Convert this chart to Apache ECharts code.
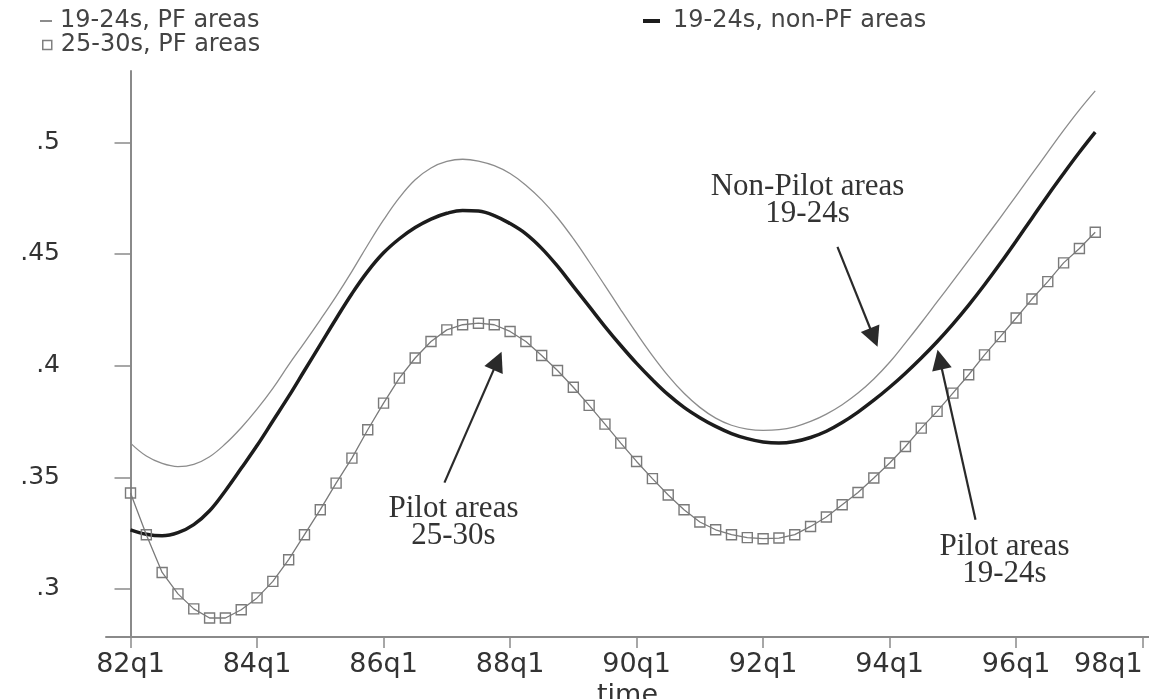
<!DOCTYPE html>
<html lang="en">
<head>
    <meta charset="UTF-8">
    <title>PF areas</title>
    <script src="https://cdn.jsdelivr.net/npm/echarts@6.0.0/dist/echarts.min.js"></script>
    <style>
        html, body {margin: 0; padding: 0; background: #fff;}
        #chart {width: 1149px; height: 699px;}
    </style>
</head>
<body>
<div id="chart"></div>
<script>
    // x is quarters counted from 82q1 (0 = 82q1, 61 = 97q2)
    let tickPos = [0, 8, 16, 24, 32, 40, 48, 56, 64];
    let tickLabels = ['82q1', '84q1', '86q1', '88q1', '90q1', '92q1', '94q1', '96q1', '98q1'];
    let yTicks = [0.3, 0.35, 0.4, 0.45, 0.5];

    let pf1924 = [
        .3653, .3595, .3562, .3548, .3558, .3592, .3650, .3722, .3805, .3898,
        .4003, .4103, .4205, .4310, .4422, .4540, .4652, .4752, .4832, .4885,
        .4914, .4924, .4916, .4895, .4860, .4808, .4742, .4662, .4568, .4465,
        .4358, .4250, .4145, .4045, .3954, .3876, .3813, .3765, .3733, .3716,
        .3710, .3713, .3726, .3750, .3783, .3825, .3877, .3940, .4015, .4102,
        .4192, .4285, .4378, .4472, .4567, .4663, .4760, .4858, .4956, .5053,
        .5145, .5230
    ];
    let nonpf1924 = [
        .3265, .3245, .3238, .3252, .3288, .3350, .3440, .3540, .3642, .3752,
        .3862, .3978, .4094, .4210, .4322, .4422, .4505, .4568, .4618, .4656,
        .4682, .4695, .4692, .4672, .4636, .4590, .4525, .4445, .4355, .4265,
        .4175, .4090, .4010, .3937, .3870, .3813, .3767, .3728, .3696, .3673,
        .3658, .3653, .3660, .3678, .3706, .3745, .3792, .3845, .3903, .3966,
        .4034, .4107, .4186, .4271, .4362, .4458, .4558, .4660, .4762, .4860,
        .4955, .5045
    ];
    let pf2530 = [
        .3430, .3243, .3074, .2978, .2911, .2870, .2870, .2907, .2960, .3034,
        .3131, .3243, .3355, .3474, .3586, .3713, .3832, .3944, .4034, .4108,
        .4160, .4183, .4190, .4183, .4153, .4108, .4045, .3978, .3903, .3822,
        .3738, .3653, .3571, .3494, .3421, .3355, .3300, .3265, .3243, .3230,
        .3225, .3228, .3243, .3280, .3322, .3377, .3432, .3497, .3564, .3638,
        .3720, .3795, .3877, .3959, .4048, .4130, .4213, .4298, .4376, .4460,
        .4524, .4597
    ];

    // annotation arrows: [start, end] in (quarter, value)
    let arrows = [
        [[44.70, .4532], [47.00, .4126]],
        [[53.43, .3310], [51.17, .4027]],
        [[19.85, .3476], [23.21, .4021]]
    ];
    let notes = [
        {name: 'Non-Pilot areas\n19-24s', coord: [42.81, .4740]},
        {name: 'Pilot areas\n19-24s', coord: [55.26, .3127]},
        {name: 'Pilot areas\n25-30s', coord: [20.42, .3299]}
    ];

    function toPoints(arr) {
        return arr.map(function (v, i) { return [i, v]; });
    }

    let legendText = {fontFamily: 'DejaVu Sans', fontSize: 24, color: '#444'};

    let myChart = echarts.init(document.getElementById('chart'));
    let option = {
        animation: false,
        backgroundColor: '#fff',
        legend: [
            {
                left: 35, top: 4, orient: 'vertical',
                itemWidth: 12, itemHeight: 2,
                data: [{name: '19-24s, PF areas', icon: 'rect', itemStyle: {color: '#8c8c8c'}}],
                textStyle: Object.assign({padding: [0, 0, 0, 3]}, legendText)
            },
            {
                left: 37, top: 28, orient: 'vertical',
                itemWidth: 9, itemHeight: 9,
                data: [{
                    name: '25-30s, PF areas', icon: 'rect',
                    itemStyle: {color: '#fff', borderColor: '#808080', borderWidth: 1.5}
                }],
                textStyle: Object.assign({padding: [0, 0, 0, 4]}, legendText)
            },
            {
                left: 638, top: 4, orient: 'vertical',
                itemWidth: 17, itemHeight: 4,
                data: [{name: '19-24s, non-PF areas', icon: 'rect', itemStyle: {color: '#1c1c1c'}}],
                textStyle: Object.assign({padding: [0, 0, 0, 8]}, legendText)
            }
        ],
        grid: {left: 106, right: 0, top: 71, bottom: 62, outerBoundsMode: 'none'},
        xAxis: {
            type: 'value',
            min: -1.55,
            max: 64.4,
            name: 'time',
            nameLocation: 'middle',
            nameGap: 42,
            nameTextStyle: {fontFamily: 'DejaVu Sans', fontSize: 27, color: '#333'},
            axisLine: {show: true, lineStyle: {color: '#8a8a8a', width: 2}},
            axisTick: {show: true, customValues: tickPos, length: 11, lineStyle: {color: '#8a8a8a', width: 1.5}},
            axisLabel: {
                customValues: tickPos,
                formatter: function (v) { return tickLabels[tickPos.indexOf(v)]; },
                fontFamily: 'DejaVu Sans', fontSize: 27, color: '#333', margin: 14,
                alignMaxLabel: 'right'
            },
            splitLine: {show: false}
        },
        yAxis: {
            type: 'value',
            min: 0.2785,
            max: 0.5319,
            axisLine: {show: true, lineStyle: {color: '#8a8a8a', width: 2}},
            axisTick: {show: true, customValues: yTicks, length: 16, lineStyle: {color: '#8a8a8a', width: 1.5}},
            axisLabel: {
                customValues: yTicks,
                formatter: function (v) { return String(v).replace(/^0/, ''); },
                fontFamily: 'DejaVu Sans', fontSize: 25, color: '#333', margin: 46,
                padding: [12, 0, 0, 0]
            },
            splitLine: {show: false}
        },
        series: [
            {
                name: '19-24s, PF areas',
                type: 'line',
                data: toPoints(pf1924),
                symbol: 'none',
                smooth: 0.4,
                lineStyle: {color: '#8c8c8c', width: 1.3},
                itemStyle: {color: '#8c8c8c'},
                emphasis: {disabled: true},
                markLine: {
                    silent: true,
                    symbol: ['none', 'triangle'],
                    symbolSize: 20,
                    label: {show: false},
                    itemStyle: {color: '#2a2a2a'},
                    lineStyle: {color: '#2a2a2a', width: 2.2, type: 'solid'},
                    emphasis: {disabled: true},
                    data: arrows.map(function (a) {
                        return [{coord: a[0]}, {coord: a[1]}];
                    })
                },
                markPoint: {
                    silent: true,
                    symbol: 'circle',
                    symbolSize: 1,
                    itemStyle: {color: 'rgba(0,0,0,0)'},
                    label: {
                        show: true, position: 'inside', formatter: '{b}',
                        fontFamily: 'Liberation Serif', fontSize: 31, lineHeight: 27,
                        color: '#333', align: 'center'
                    },
                    data: notes
                }
            },
            {
                name: '19-24s, non-PF areas',
                type: 'line',
                data: toPoints(nonpf1924),
                symbol: 'none',
                smooth: 0.4,
                lineStyle: {color: '#1c1c1c', width: 3.5},
                itemStyle: {color: '#1c1c1c'},
                emphasis: {disabled: true}
            },
            {
                name: '25-30s, PF areas',
                type: 'line',
                data: toPoints(pf2530),
                symbol: 'rect',
                symbolSize: 10,
                showAllSymbol: true,
                lineStyle: {color: '#7a7a7a', width: 1.3},
                itemStyle: {color: 'rgba(255,255,255,0)', borderColor: '#7a7a7a', borderWidth: 1.4},
                emphasis: {disabled: true}
            }
        ]
    };
    myChart.setOption(option);
</script>
</body>
</html>
